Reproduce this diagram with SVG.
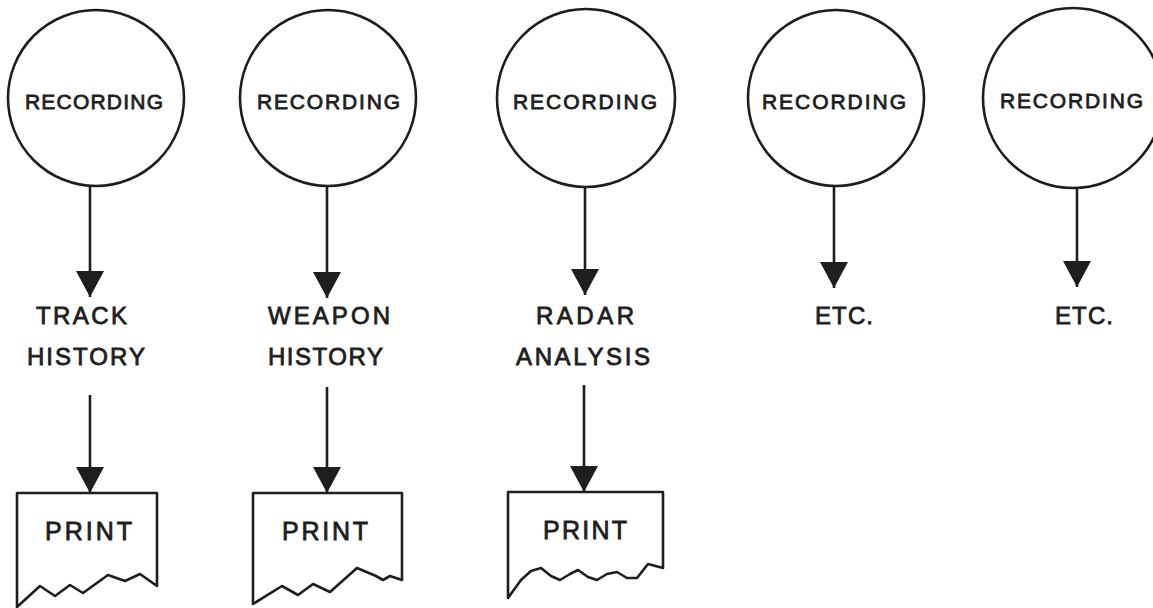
<svg xmlns="http://www.w3.org/2000/svg" width="1153" height="608" viewBox="0 0 1153 608">
<style>
.bg{fill:#ffffff}
.node{fill:none;stroke:#1e1e1e;stroke-width:2.6}
.shape{fill:#ffffff;stroke:#1e1e1e;stroke-width:2.6;stroke-linejoin:round}
.edge{stroke:#1e1e1e;stroke-width:2.6;fill:none}
.t{font-family:"Liberation Sans",Arial,sans-serif;fill:#1e1e1e;stroke:#1e1e1e;stroke-width:0.8}
.rec{font-size:21px}
.lab{font-size:24px}
.prn{font-size:25px}
</style>
<defs>
<marker id="ah" markerUnits="userSpaceOnUse" viewBox="0 0 28 28" markerWidth="28" markerHeight="28" refX="26" refY="14" orient="auto">
<path d="M0,0 L26,14 L0,28 Z" fill="#1e1e1e"/>
</marker>
</defs>
<rect class="bg" x="0" y="0" width="1153" height="608"/>

<g id="connectors">
<line class="edge" x1="90" y1="186" x2="90" y2="297" marker-end="url(#ah)"/>
<line class="edge" x1="327" y1="186" x2="327" y2="298" marker-end="url(#ah)"/>
<line class="edge" x1="585" y1="187" x2="585" y2="295" marker-end="url(#ah)"/>
<line class="edge" x1="834" y1="186" x2="834" y2="288" marker-end="url(#ah)"/>
<line class="edge" x1="1077" y1="188" x2="1077" y2="287" marker-end="url(#ah)"/>
<line class="edge" x1="90" y1="395" x2="90" y2="493" marker-end="url(#ah)"/>
<line class="edge" x1="327" y1="387" x2="327" y2="493" marker-end="url(#ah)"/>
<line class="edge" x1="584" y1="385" x2="584" y2="492" marker-end="url(#ah)"/>
</g>

<g id="rec1">
<circle class="node" cx="96" cy="98" r="88"/>
<text class="t rec" x="25" y="109" textLength="138" lengthAdjust="spacing">RECORDING</text>
</g>
<g id="rec2">
<circle class="node" cx="328" cy="98" r="88"/>
<text class="t rec" x="257" y="109" textLength="143" lengthAdjust="spacing">RECORDING</text>
</g>
<g id="rec3">
<circle class="node" cx="586" cy="98" r="89"/>
<text class="t rec" x="513" y="109" textLength="144" lengthAdjust="spacing">RECORDING</text>
</g>
<g id="rec4">
<circle class="node" cx="836" cy="98" r="88"/>
<text class="t rec" x="762" y="109" textLength="144" lengthAdjust="spacing">RECORDING</text>
</g>
<g id="rec5">
<circle class="node" cx="1073" cy="98" r="90"/>
<text class="t rec" x="1000" y="108" textLength="143" lengthAdjust="spacing">RECORDING</text>
</g>

<g id="track-history">
<text class="t lab" x="36" y="324" textLength="91" lengthAdjust="spacing">TRACK</text>
<text class="t lab" x="27" y="365" textLength="118" lengthAdjust="spacing">HISTORY</text>
</g>
<g id="weapon-history">
<text class="t lab" x="268" y="324" textLength="122" lengthAdjust="spacing">WEAPON</text>
<text class="t lab" x="268" y="365" textLength="115" lengthAdjust="spacing">HISTORY</text>
</g>
<g id="radar-analysis">
<text class="t lab" x="536" y="324" textLength="98" lengthAdjust="spacing">RADAR</text>
<text class="t lab" x="516" y="365" textLength="134" lengthAdjust="spacing">ANALYSIS</text>
</g>
<g id="etc1">
<text class="t lab" x="815" y="324" textLength="58" lengthAdjust="spacing">ETC.</text>
</g>
<g id="etc2">
<text class="t lab" x="1055" y="324" textLength="58" lengthAdjust="spacing">ETC.</text>
</g>

<g id="print1">
<path class="shape" d="M17,607 L17,493 L157,493 L157,586 L140,574 L125,581 L108,575 L83,593 L70,585 L55,596 L40,586 Z"/>
<text class="t prn" x="45" y="540" textLength="87" lengthAdjust="spacing">PRINT</text>
</g>
<g id="print2">
<path class="shape" d="M253,604 L253,493 L402,493 L402,580 L390,576 L383,580 L376,576 L357,568 L330,592 L313,584 L298,595 L282,586 Z"/>
<text class="t prn" x="282" y="540" textLength="86" lengthAdjust="spacing">PRINT</text>
</g>
<g id="print3">
<path class="shape" d="M508,598 L508,492 L663,492 L663,568 L648,564 L637,578 L627,578 L617,572 L607,574 L597,580 L588,577 L578,570 L570,574 L560,580 L551,576 L541,568 L531,571 L521,580 Z"/>
<text class="t prn" x="543" y="539" textLength="84" lengthAdjust="spacing">PRINT</text>
</g>
</svg>
